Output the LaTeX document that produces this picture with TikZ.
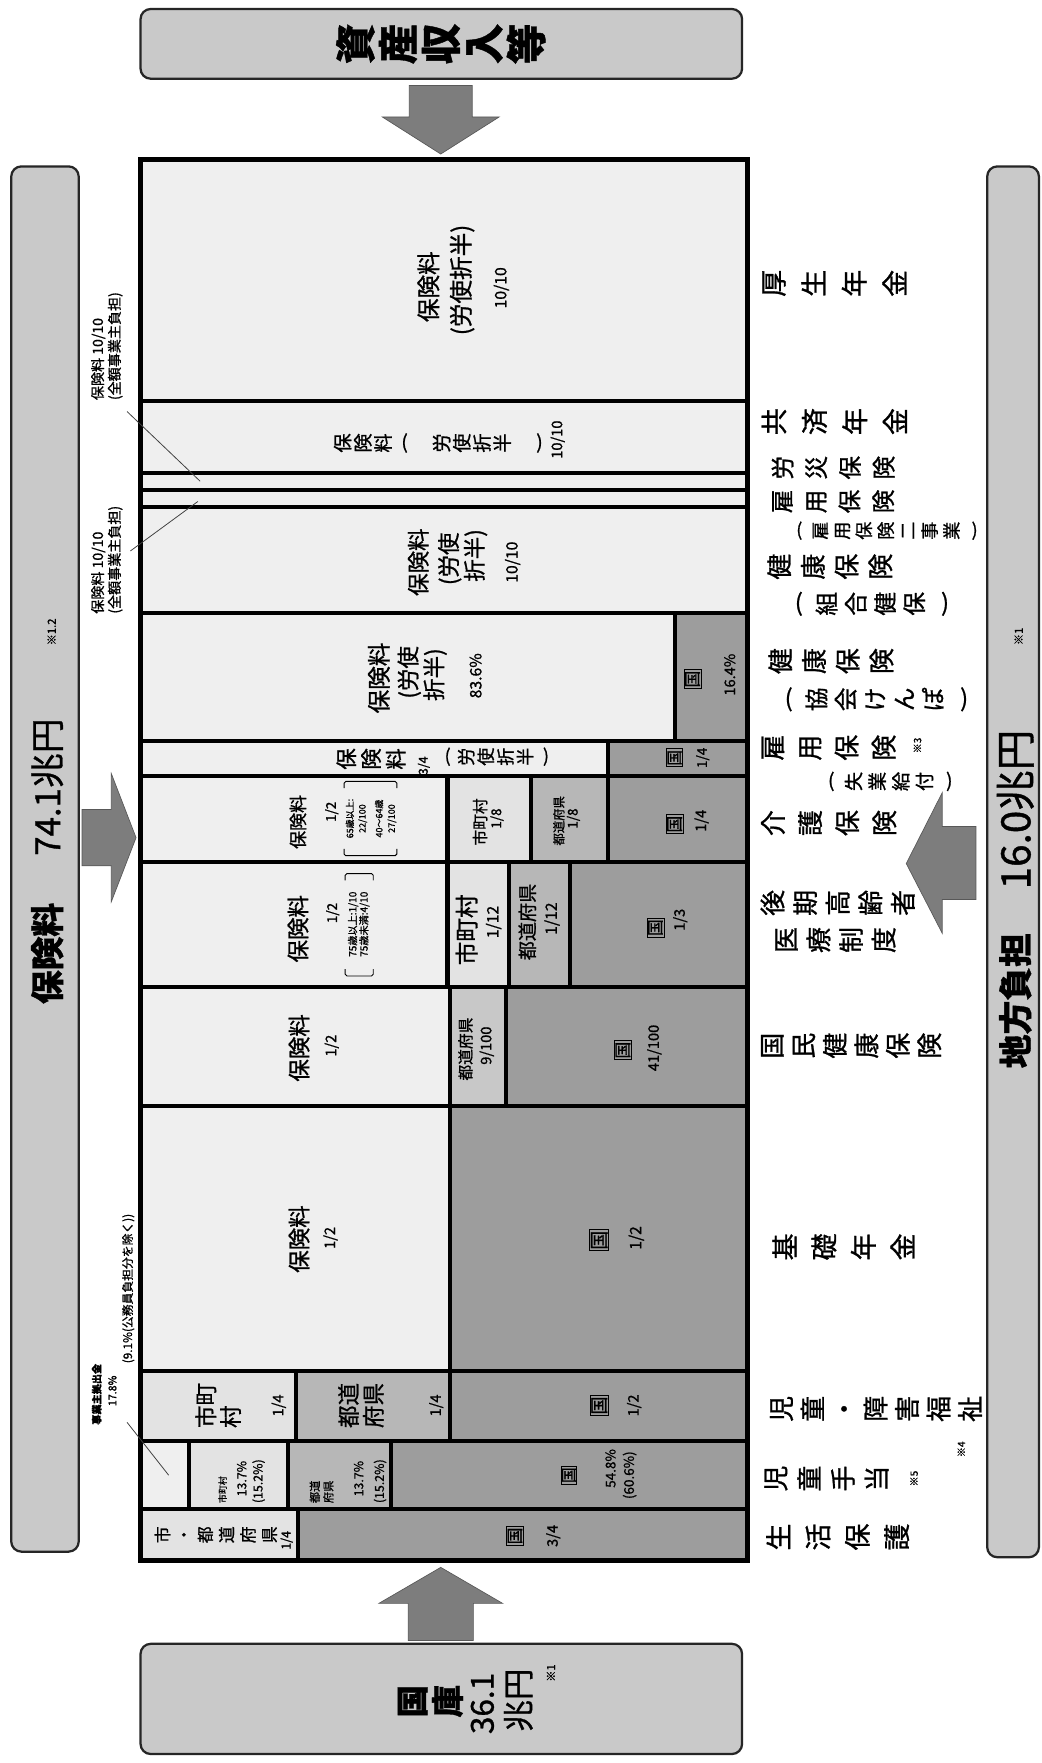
\documentclass[tikz,border=0pt]{standalone}
\usepackage{fontspec}
\setmainfont{Noto Sans CJK JP}[FakeBold=1]
\usepackage{graphicx}
\definecolor{lt}{HTML}{EFEFEF}
\definecolor{mc}{HTML}{E3E3E3}
\definecolor{pf}{HTML}{B7B7B7}
\definecolor{pfl}{HTML}{C8C8C8}
\definecolor{kk}{HTML}{9D9D9D}
\definecolor{bx}{HTML}{C9C9C9}
\definecolor{ar}{HTML}{7D7D7D}
\newcommand\fsz[2]{\fontsize{#1}{#2}\selectfont}
\newcommand\kuni{{\setlength\fboxsep{0.6pt}\setlength\fboxrule{0.7pt}\fbox{国}}}
\newcommand\vpar[1]{\rotatebox[origin=c]{-90}{#1}}
\newcommand\cellr[5]{\path[cellst,fill=#5] (#1,#2) rectangle (#3,#4);}
\begin{document}
\begin{tikzpicture}[x=1pt,y=-1pt,
  cellst/.style={draw=black,line width=3.6pt},
  bigbox/.style={draw=black!85,line width=2pt,fill=bx,rounded corners=9pt,inner sep=0pt},
  blockarrow/.style={fill=ar,draw=ar!70!black,line width=0.6pt},
  rt/.style={rotate=90,inner sep=0pt,align=center},
  lead/.style={draw=black!75,line width=0.7pt},
  brk/.style={draw=black,line width=0.8pt,rounded corners=1.5pt}]
\fill[white] (0,0) rectangle (926,1568);
\useasboundingbox (0,0) rectangle (926,1568);

% ---------- outer boxes ----------
\node[bigbox,minimum width=535pt,minimum height=62pt] (topbox) at (392.5,39) {};
\node[bigbox,minimum width=60pt,minimum height=1232pt] (leftbox) at (40,764) {};
\node[bigbox,minimum width=46pt,minimum height=1237pt] (rightbox) at (901,766.5) {};
\node[bigbox,minimum width=535pt,minimum height=98pt] (botbox) at (392.5,1511) {};

\node[rt,font=\bfseries\fsz{36}{38}] (tshisan) at (392,39) {資\\産\\収\\入\\等};

\node[rt,font=\bfseries\fsz{30}{32}] (lhoken) at (42,848) {保険料};
\node[rt,font=\fsz{31}{32}] (lamount) at (42,700) {74.1兆円};
\node[rt,font=\fsz{10}{12}] (lnote) at (46,562) {※1.2};

\node[rt,font=\bfseries\fsz{30}{32}] (rchiho) at (903,890) {地方負担};
\node[rt,font=\fsz{36}{38}] (ramount) at (903,720) {16.0兆円};
\node[rt,font=\fsz{10}{12}] (rnote) at (906,566) {※1};

\node[rt,font=\bfseries\fsz{29}{30}] (bkoku) at (367,1513) {国};
\node[rt,font=\bfseries\fsz{29}{30}] (bko) at (398,1513) {庫};
\node[rt,font=\fsz{28}{30}] (bnum) at (429,1515) {36.1};
\node[rt,font=\fsz{28}{30}] (bcho) at (461,1512) {兆円};
\node[rt,font=\fsz{10}{12}] (bnote) at (490,1488) {※1};

% ---------- block arrows ----------
\path[blockarrow] (364,76) -- (420,76) -- (420,104) -- (444,104) -- (392,137) -- (340,104) -- (364,104) -- cycle;
\path[blockarrow] (73,720) -- (99,720) -- (99,688) -- (121,745) -- (99,802) -- (99,770) -- (73,770) -- cycle;
\path[blockarrow] (868,735) -- (838,735) -- (838,705) -- (806,768) -- (838,830) -- (838,800) -- (868,800) -- cycle;
\path[blockarrow] (363,1459) -- (421,1459) -- (421,1426) -- (447,1426) -- (392,1394) -- (337,1426) -- (363,1426) -- cycle;

% ---------- cells ----------
\cellr{125}{142}{665}{357}{lt}
\cellr{125}{357}{665}{421}{lt}
\cellr{125}{421}{665}{436}{lt}
\cellr{125}{436}{665}{451}{lt}
\cellr{125}{451}{665}{545}{lt}
\cellr{125}{545}{600}{659}{lt}
\cellr{600}{545}{665}{659}{kk}
\cellr{125}{659}{541}{690}{lt}
\cellr{541}{659}{665}{690}{kk}
\cellr{125}{690}{398}{767}{lt}
\cellr{398}{690}{472}{767}{mc}
\cellr{472}{690}{541}{767}{pf}
\cellr{541}{690}{665}{767}{kk}
\cellr{125}{767}{398}{878}{lt}
\cellr{398}{767}{453}{878}{mc}
\cellr{453}{767}{507}{878}{pf}
\cellr{507}{767}{665}{878}{kk}
\cellr{125}{878}{400}{984}{lt}
\cellr{400}{878}{450}{984}{pfl}
\cellr{450}{878}{665}{984}{kk}
\cellr{125}{984}{400}{1219}{lt}
\cellr{400}{984}{665}{1219}{kk}
\cellr{125}{1219}{263}{1282}{mc}
\cellr{263}{1219}{400}{1282}{pf}
\cellr{400}{1219}{665}{1282}{kk}
\cellr{125}{1282}{168}{1342}{lt}
\cellr{168}{1282}{256}{1342}{mc}
\cellr{256}{1282}{348}{1342}{pf}
\cellr{348}{1282}{665}{1342}{kk}
\cellr{125}{1342}{265}{1388}{mc}
\cellr{265}{1342}{665}{1388}{kk}
\draw[line width=4.5pt] (125,142) rectangle (665,1388);

% ---------- cell texts ----------
% 厚生年金
\node[rt,font=\fsz{21}{24}] (a1) at (381,255) {保険料};
\node[rt,font=\fsz{21}{24}] (a2) at (411,249) {(労使折半)};
\node[rt,font=\fsz{14}{16}] (a3) at (446,256) {10/10};
% 共済年金
\node[rt,font=\fsz{17}{18}] (b1) at (391,394) {保\\険\\料\\\vpar{(}\\[16pt]労\\使\\折\\半\\[14pt]\vpar{)}};
\node[rt,font=\fsz{13}{15}] (b2) at (496,391) {10/10};
% 組合健保
\node[rt,font=\fsz{20}{22}] (d1) at (372,500) {保険料};
\node[rt,font=\fsz{20}{22}] (d2) at (400,497) {(労使};
\node[rt,font=\fsz{20}{22}] (d3) at (423,494) {折半)};
\node[rt,font=\fsz{14}{16}] (d4) at (456,500) {10/10};
% 協会けんぽ
\node[rt,font=\fsz{21}{24}] (e1) at (337,603) {保険料};
\node[rt,font=\fsz{20}{22}] (e2) at (364,598) {(労使};
\node[rt,font=\fsz{20}{22}] (e3) at (387,600) {折半)};
\node[rt,font=\fsz{14}{16}] (e4) at (423,601) {83.6\%};
\node[rt,font=\fsz{15}{16}] (e5) at (616,604) {\kuni};
\node[rt,font=\fsz{13}{15}] (e6) at (649,600) {16.4\%};
% 雇用保険（失業給付）
\node[rt,font=\fsz{19}{22}] (f1) at (330,675) {保\\険\\料};
\node[rt,font=\fsz{11}{12}] (f2) at (377,681) {3/4};
\node[rt,font=\fsz{16}{17.5}] (f3) at (443,673) {\vpar{(}\\労\\使\\折\\半\\\vpar{)}};
\node[rt,font=\fsz{14}{16}] (f4) at (600,674) {\kuni};
\node[rt,font=\fsz{12}{14}] (f5) at (625,674) {1/4};
% 介護保険
\node[rt,font=\fsz{16}{18}] (g1) at (265,731) {保険料};
\node[rt,font=\fsz{12}{14}] (g2) at (295,722) {1/2};
\node[rt,font=\fsz{8}{11}] (g3) at (330,728) {65歳以上:\\22/100\\[4pt]40〜64歳\\27/100};
\draw[brk] (306,701) -- (306,695) -- (353,695) -- (353,701);
\draw[brk] (306,755) -- (306,761) -- (353,761) -- (353,755);
\node[rt,font=\fsz{14}{16}] (g4) at (427,731) {市町村};
\node[rt,font=\fsz{12}{14}] (g5) at (442,728) {1/8};
\node[rt,font=\fsz{11}{13}] (g6) at (497,730) {都道府県};
\node[rt,font=\fsz{12}{14}] (g7) at (510,728) {1/8};
\node[rt,font=\fsz{15}{16}] (g8) at (600,733) {\kuni};
\node[rt,font=\fsz{13}{15}] (g9) at (624,730) {1/4};
% 後期高齢者医療制度
\node[rt,font=\fsz{20}{22}] (h1) at (265,826) {保険料};
\node[rt,font=\fsz{12}{14}] (h2) at (296,812) {1/2};
\node[rt,font=\fsz{9}{10}] (h3) at (319,822) {75歳以上:1/10\\75歳未満:4/10};
\draw[brk] (307,783) -- (307,777) -- (332,777) -- (332,783);
\draw[brk] (307,862) -- (307,868) -- (332,868) -- (332,862);
\node[rt,font=\fsz{21}{22}] (h4) at (415,827) {市町村};
\node[rt,font=\fsz{14}{16}] (h5) at (439,820) {1/12};
\node[rt,font=\fsz{17}{19}] (h6) at (469,820) {都道府県};
\node[rt,font=\fsz{14}{16}] (h7) at (491,817) {1/12};
\node[rt,font=\fsz{15}{16}] (h8) at (583,825) {\kuni};
\node[rt,font=\fsz{13}{15}] (h9) at (605,818) {1/3};
% 国民健康保険
\node[rt,font=\fsz{20}{22}] (i1) at (266,932) {保険料};
\node[rt,font=\fsz{13}{15}] (i2) at (295,930) {1/2};
\node[rt,font=\fsz{14}{16}] (i3) at (414,933) {都道府県};
\node[rt,font=\fsz{13}{15}] (i4) at (433,930) {9/100};
\node[rt,font=\fsz{15}{16}] (i5) at (554,934) {\kuni};
\node[rt,font=\fsz{13}{15}] (i6) at (582,932) {41/100};
% 基礎年金
\node[rt,font=\fsz{20}{22}] (j1) at (266,1102) {保険料};
\node[rt,font=\fsz{13}{15}] (j2) at (294,1101) {1/2};
\node[rt,font=\fsz{17}{18}] (j3) at (533,1103) {\kuni};
\node[rt,font=\fsz{14}{16}] (j4) at (566,1101) {1/2};
% 児童・障害福祉
\node[rt,align=left,font=\fsz{20}{22}] (k1) at (194,1250) {市町\\村};
\node[rt,font=\fsz{13}{15}] (k2) at (248,1250) {1/4};
\node[rt,align=left,font=\fsz{20}{22}] (k3) at (321,1250) {都道\\府県};
\node[rt,font=\fsz{13}{15}] (k4) at (388,1250) {1/4};
\node[rt,font=\fsz{16}{17}] (k5) at (533,1250) {\kuni};
\node[rt,font=\fsz{13}{15}] (k6) at (564,1250) {1/2};
% 児童手当
\node[rt,anchor=west,font=\fsz{8}{9}] (l1) at (198,1337) {市町村};
\node[rt,anchor=west,font=\fsz{11}{12}] (l2) at (215,1331) {13.7\%};
\node[rt,anchor=west,font=\fsz{11}{12}] (l3) at (230,1337) {(15.2\%)};
\node[rt,anchor=west,align=left,font=\fsz{10}{12}] (l4) at (286,1337) {都道\\府県};
\node[rt,anchor=west,font=\fsz{11}{12}] (l5) at (319,1331) {13.7\%};
\node[rt,anchor=west,font=\fsz{11}{12}] (l6) at (338,1337) {(15.2\%)};
\node[rt,font=\fsz{14}{15}] (l7) at (506,1312) {\kuni};
\node[rt,font=\fsz{12}{14}] (l8) at (543,1306) {54.8\%};
\node[rt,font=\fsz{12}{14}] (l9) at (560,1312) {(60.6\%)};
% 生活保護
\node[rt,font=\fsz{15}{19}] (m1) at (192,1365) {市\\・\\都\\道\\府\\県};
\node[rt,font=\fsz{11}{12}] (m2) at (255,1370) {1/4};
\node[rt,font=\fsz{15}{16}] (m3) at (458,1366) {\kuni};
\node[rt,font=\fsz{13}{15}] (m4) at (492,1366) {3/4};

% ---------- left annotations ----------
\node[rt,align=left,anchor=west,font=\fsz{12.5}{15}] (ann1) at (95,356) {保険料 10/10\\(全額事業主負担)};
\node[rt,align=left,anchor=west,font=\fsz{12.5}{15}] (ann2) at (95,546) {保険料 10/10\\(全額事業主負担)};
\coordinate (c1a) at (113,366);
\coordinate (c1b) at (178,428);
\coordinate (c2a) at (116,490);
\coordinate (c2b) at (176,446);
\draw[lead] (c1a) -- (c1b);
\draw[lead] (c2a) -- (c2b);
\node[rt,font=\bfseries\fsz{9}{11}] (ann3a) at (86,1240) {事業主拠出金};
\node[rt,font=\fsz{9.5}{11}] (ann3b) at (100,1237) {17.8\%};
\node[rt,font=\fsz{10.5}{12}] (ann3c) at (114,1146) {(9.1\%(公務員負担分を除く))};
\coordinate (c3a) at (113,1265);
\coordinate (c3b) at (150,1312);
\draw[lead] (c3a) -- (c3b);

% ---------- right labels ----------
\node[rt,font=\fsz{24}{36}] (r1) at (742,252) {厚\\生\\年\\金};
\node[rt,font=\fsz{24}{36}] (r2) at (742,375) {共\\済\\年\\金};
\node[rt,font=\fsz{21}{30}] (r3) at (741,416) {労\\災\\保\\険};
\node[rt,font=\fsz{21}{30}] (r4) at (741,446) {雇\\用\\保\\険};
\node[rt,font=\fsz{16}{19.5}] (r5) at (790,472) {\vpar{(}\\雇\\用\\保\\険\\二\\事\\業\\\vpar{)}};
\node[rt,font=\fsz{23}{30}] (r6) at (738,504) {健\\康\\保\\険};
\node[rt,font=\fsz{21}{26}] (r7) at (777,537) {\vpar{(}\\組\\合\\健\\保\\\vpar{)}};
\node[rt,font=\fsz{23}{30}] (r8) at (739,588) {健\\康\\保\\険};
\node[rt,font=\fsz{21}{26}] (r9) at (781,622) {\vpar{(}\\協\\会\\け\\ん\\ぽ\\\vpar{)}};
\node[rt,font=\fsz{23}{33}] (r10) at (737,665) {雇\\用\\保\\険};
\node[rt,font=\fsz{9}{10}] (r10n) at (816,663) {※3};
\node[rt,font=\fsz{17}{21}] (r11) at (793,695) {\vpar{(}\\失\\業\\給\\付\\\vpar{)}};
\node[rt,font=\fsz{23}{33}] (r12) at (737,732) {介\\護\\保\\険};
\node[rt,font=\fsz{23}{29}] (r13) at (745,803) {後\\期\\高\\齢\\者};
\node[rt,font=\fsz{23}{29}] (r14) at (743,836) {医\\療\\制\\度};
\node[rt,font=\fsz{23}{28}] (r15) at (757,930) {国\\民\\健\\康\\保\\険};
\node[rt,font=\fsz{24}{35}] (r16) at (750,1109) {基\\礎\\年\\金};
\node[rt,font=\fsz{23}{28}] (r17) at (779,1253) {児\\童\\・\\障\\害\\福\\祉};
\node[rt,font=\fsz{9}{10}] (r17n) at (855,1289) {※4};
\node[rt,font=\fsz{23}{30}] (r18) at (735,1315) {児\\童\\手\\当};
\node[rt,font=\fsz{9}{10}] (r18n) at (813,1315) {※5};
\node[rt,font=\fsz{24}{35}] (r19) at (745,1367) {生\\活\\保\\護};
\end{tikzpicture}
\end{document}
